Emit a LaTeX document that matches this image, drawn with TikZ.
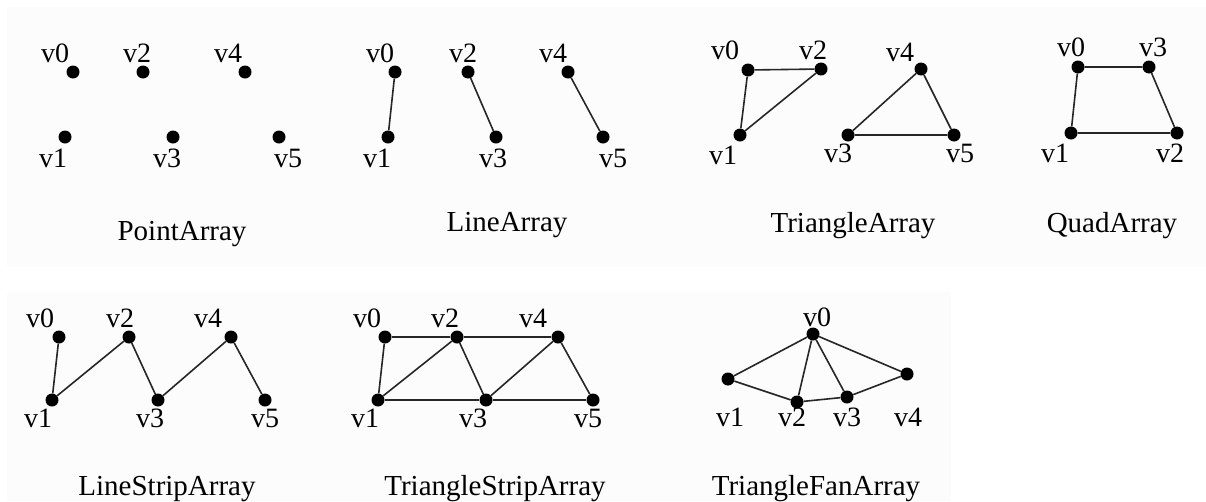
\documentclass[tikz,border=0pt]{standalone}
\usepackage{fontspec}
\setmainfont{Liberation Serif}
\definecolor{panel}{RGB}{251,252,251}
\tikzset{
  vtx/.style={circle,fill=black,inner sep=0pt,minimum size=13pt},
  edge/.style={line width=1.6pt,black!85},
  lbl/.style={anchor=base,inner sep=0pt,font=\fontsize{28}{32}\selectfont},
  ttl/.style={anchor=base,inner sep=0pt,font=\fontsize{29}{34}\selectfont},
}
\begin{document}
\begin{tikzpicture}[x=1pt,y=-1pt]
\useasboundingbox (0,0) rectangle (1206,501);
\fill[panel] (7,7) rectangle (1206,267);
\fill[panel] (7,292) rectangle (951,501);

% ---------- PointArray
\node[vtx] (p0) at (73,72) {};
\node[vtx] (p1) at (65,137) {};
\node[vtx] (p2) at (143,72) {};
\node[vtx] (p3) at (173,137) {};
\node[vtx] (p4) at (245,72) {};
\node[vtx] (p5) at (279,137) {};
\node[lbl] (pl0) at (55,62) {v0};
\node[lbl] (pl1) at (53,167) {v1};
\node[lbl] (pl2) at (137,62) {v2};
\node[lbl] (pl3) at (167,167) {v3};
\node[lbl] (pl4) at (228,62) {v4};
\node[lbl] (pl5) at (288,167) {v5};
\node[ttl] (pt) at (182,240) {PointArray};

% ---------- LineArray
\node[vtx] (l0) at (395,72) {};
\node[vtx] (l1) at (388,137) {};
\node[vtx] (l2) at (468,72) {};
\node[vtx] (l3) at (496,137) {};
\node[vtx] (l4) at (568,72) {};
\node[vtx] (l5) at (603,137) {};
\draw[edge] (l0) -- (l1);
\draw[edge] (l2) -- (l3);
\draw[edge] (l4) -- (l5);
\node[lbl] (ll0) at (380,62) {v0};
\node[lbl] (ll1) at (377,167) {v1};
\node[lbl] (ll2) at (463,62) {v2};
\node[lbl] (ll3) at (493,167) {v3};
\node[lbl] (ll4) at (553,62) {v4};
\node[lbl] (ll5) at (613,167) {v5};
\node[ttl] (lt) at (507,231) {LineArray};

% ---------- TriangleArray
\node[vtx] (t0) at (748,70) {};
\node[vtx] (t1) at (740,135) {};
\node[vtx] (t2) at (821,69) {};
\node[vtx] (t3) at (848,135) {};
\node[vtx] (t4) at (921,69) {};
\node[vtx] (t5) at (954,135) {};
\draw[edge] (t0) -- (t1) -- (t2) -- (t0);
\draw[edge] (t3) -- (t4) -- (t5) -- (t3);
\node[lbl] (tl0) at (725,59) {v0};
\node[lbl] (tl1) at (723,164) {v1};
\node[lbl] (tl2) at (813,59) {v2};
\node[lbl] (tl3) at (838,162) {v3};
\node[lbl] (tl4) at (900,61) {v4};
\node[lbl] (tl5) at (960,162) {v5};
\node[ttl] (tt) at (853,232) {TriangleArray};

% ---------- QuadArray
\node[vtx] (q0) at (1078,67) {};
\node[vtx] (q1) at (1071,133) {};
\node[vtx] (q2) at (1177,133) {};
\node[vtx] (q3) at (1149,67) {};
\draw[edge] (q0) -- (q1) -- (q2) -- (q3) -- (q0);
\node[lbl] (ql0) at (1071,56) {v0};
\node[lbl] (ql1) at (1055,162) {v1};
\node[lbl] (ql2) at (1170,162) {v2};
\node[lbl] (ql3) at (1153,56) {v3};
\node[ttl] (qt) at (1112,232) {QuadArray};

% ---------- LineStripArray
\node[vtx] (s0) at (59,337) {};
\node[vtx] (s1) at (52,400) {};
\node[vtx] (s2) at (129,337) {};
\node[vtx] (s3) at (158,400) {};
\node[vtx] (s4) at (231,337) {};
\node[vtx] (s5) at (265,400) {};
\draw[edge] (s0) -- (s1) -- (s2) -- (s3) -- (s4) -- (s5);
\node[lbl] (sl0) at (40,327) {v0};
\node[lbl] (sl1) at (38,427) {v1};
\node[lbl] (sl2) at (120,327) {v2};
\node[lbl] (sl3) at (150,427) {v3};
\node[lbl] (sl4) at (208,327) {v4};
\node[lbl] (sl5) at (265,427) {v5};
\node[ttl] (st) at (167,495) {LineStripArray};

% ---------- TriangleStripArray
\node[vtx] (r0) at (385,337) {};
\node[vtx] (r1) at (378,400) {};
\node[vtx] (r2) at (457,337) {};
\node[vtx] (r3) at (486,400) {};
\node[vtx] (r4) at (558,337) {};
\node[vtx] (r5) at (593,400) {};
\draw[edge] (r0) -- (r2) -- (r4);
\draw[edge] (r1) -- (r3) -- (r5);
\draw[edge] (r0) -- (r1) -- (r2) -- (r3) -- (r4) -- (r5);
\node[lbl] (rl0) at (367,327) {v0};
\node[lbl] (rl1) at (365,427) {v1};
\node[lbl] (rl2) at (445,327) {v2};
\node[lbl] (rl3) at (473,427) {v3};
\node[lbl] (rl4) at (533,327) {v4};
\node[lbl] (rl5) at (588,427) {v5};
\node[ttl] (rt) at (495,495) {TriangleStripArray};

% ---------- TriangleFanArray
\node[vtx] (f0) at (813,334) {};
\node[vtx] (f1) at (728,379) {};
\node[vtx] (f2) at (797,402) {};
\node[vtx] (f3) at (847,397) {};
\node[vtx] (f4) at (907,374) {};
\draw[edge] (f0) -- (f1);
\draw[edge] (f0) -- (f2);
\draw[edge] (f0) -- (f3);
\draw[edge] (f0) -- (f4);
\draw[edge] (f1) -- (f2) -- (f3) -- (f4);
\node[lbl] (fl0) at (817,326) {v0};
\node[lbl] (fl1) at (730,426) {v1};
\node[lbl] (fl2) at (792,426) {v2};
\node[lbl] (fl3) at (847,426) {v3};
\node[lbl] (fl4) at (908,426) {v4};
\node[ttl] (ft) at (816,495) {TriangleFanArray};
\end{tikzpicture}
\end{document}
